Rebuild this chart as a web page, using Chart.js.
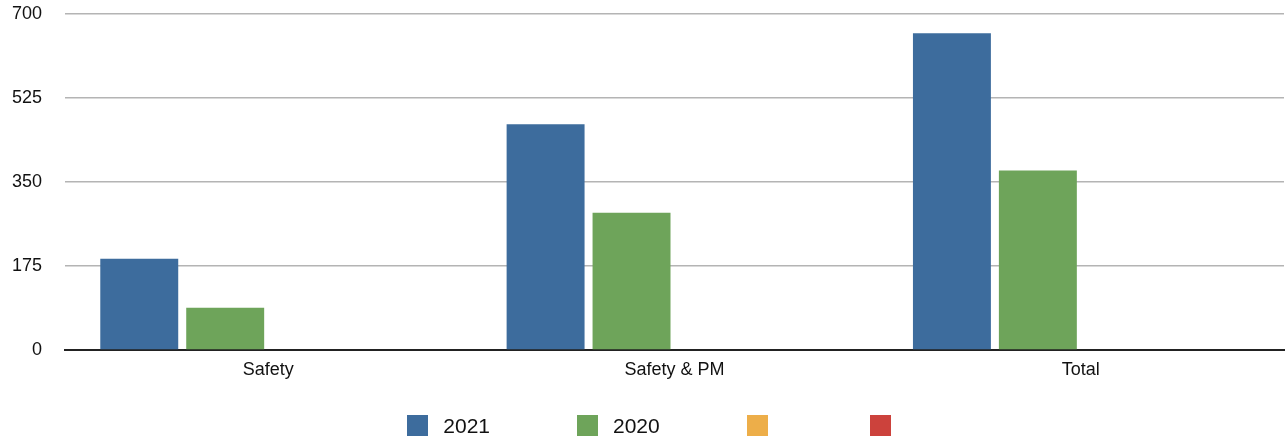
<!DOCTYPE html>
<html>
<head>
<meta charset="utf-8">
<script src="https://cdn.jsdelivr.net/npm/chart.js@4"></script>
<style>
  html, body { margin: 0; padding: 0; background: #fff; }
  #wrap { position: relative; width: 1286px; height: 441px; }
  #legend {
    position: absolute; left: 0; top: 415px; width: 1274px; padding-left: 12px;
    display: flex; justify-content: center;
    font-family: "Helvetica Neue", Helvetica, Arial, "Liberation Sans", sans-serif;
    font-size: 21px; color: #111;
  }
  .item { display: flex; align-items: center; height: 21px; margin-right: 87px; }
  .item:last-child { margin-right: 0; }
  .swatch { width: 21px; height: 21px; }
  .item span { margin-left: 15px; line-height: 21px; }
  .item:last-child span:empty { display: none; }
</style>
</head>
<body>
<div id="wrap">
  <canvas id="chart" width="1286" height="441"></canvas>
  <div id="legend"></div>
</div>
<script>
const categories = ["Safety", "Safety & PM", "Total"];
const seriesNames = ["2021", "2020", "", ""];
const values2021 = [190, 470, 660];
const values2020 = [88, 286, 374];
const valuesC = [0, 0, 0];
const valuesD = [0, 0, 0];
const colors = ["#3d6c9d", "#6ea45a", "#edae49", "#cc423c"];
const yTicks = [0, 175, 350, 525, 700];

const allValues = [values2021, values2020, valuesC, valuesD];

const datasets = allValues.map((data, i) => ({
  label: seriesNames[i],
  data,
  backgroundColor: colors[i],
  borderWidth: 0,
  categoryPercentage: 0.846,
  barPercentage: 0.907,
}));

const fontFamily = '"Helvetica Neue", Helvetica, Arial, "Liberation Sans", sans-serif';

new Chart(document.getElementById("chart"), {
  type: "bar",
  data: { labels: categories, datasets },
  options: {
    responsive: false,
    animation: false,
    layout: { padding: { top: 14, right: 2, bottom: 51.5, left: 0 } },
    plugins: {
      legend: { display: false },
      tooltip: { enabled: false },
    },
    scales: {
      x: {
        grid: { display: false, drawTicks: false },
        border: { display: true, color: "#222", width: 2 },
        ticks: { color: "#111", padding: 9, font: { family: fontFamily, size: 18 } },
      },
      y: {
        min: yTicks[0],
        max: yTicks[yTicks.length - 1],
        afterFit: s => {
          s.width = 65;
          s.paddingTop = 0;
          s.paddingBottom = 0;
        },
        afterBuildTicks: s => { s.ticks = yTicks.map(v => ({ value: v })); },
        grid: { color: "#b4b4b4", lineWidth: 1.5, drawTicks: false },
        border: { display: false },
        ticks: { color: "#111", padding: 23, font: { family: fontFamily, size: 18 } },
      },
    },
  },
});

// legend built from the same series names and colours
const legend = document.getElementById("legend");
seriesNames.forEach((name, i) => {
  const item = document.createElement("div");
  item.className = "item";
  item.innerHTML = `<div class="swatch" style="background:${colors[i]}"></div><span>${name}</span>`;
  legend.appendChild(item);
});
</script>
</body>
</html>
